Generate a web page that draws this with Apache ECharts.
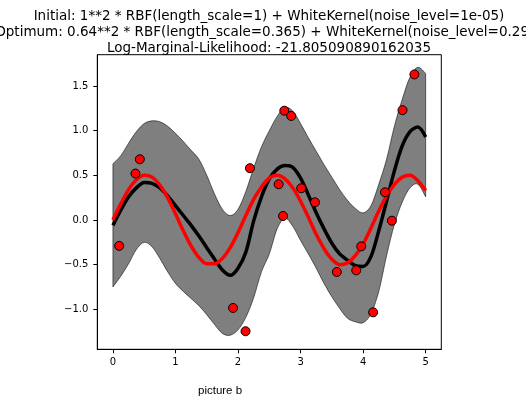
<!DOCTYPE html>
<html>
<head>
<meta charset="utf-8">
<script src="https://cdn.jsdelivr.net/npm/echarts@6/dist/echarts.min.js"></script>
<style>html,body{margin:0;padding:0;background:#fff}#c{width:526px;height:398px}</style>
</head>
<body>
<div id="c"></div>
<script>
// Grid of x positions used for the curves
const xs = [0,0.125,0.25,0.375,0.5,0.625,0.75,0.875,1,1.125,1.25,1.375,1.5,1.625,1.75,1.875,2,2.125,2.25,2.375,2.5,2.625,2.75,2.875,3,3.125,3.25,3.375,3.5,3.625,3.75,3.875,4,4.125,4.25,4.375,4.5,4.625,4.75,4.875,5];
// GP posterior mean (black)
const meanVals = [-0.06,0.11,0.26,0.36,0.42,0.41,0.36,0.27,0.16,0.05,-0.06,-0.18,-0.31,-0.44,-0.56,-0.62,-0.54,-0.36,-0.01,0.26,0.46,0.57,0.61,0.59,0.47,0.28,0.08,-0.10,-0.26,-0.38,-0.45,-0.51,-0.52,-0.41,-0.12,0.21,0.55,0.83,0.99,1.04,0.93];
// Band upper / lower edges (mean +/- std)
const upperVals = [0.63,0.72,0.86,0.99,1.08,1.11,1.10,1.05,0.97,0.88,0.78,0.68,0.50,0.29,0.12,0.05,0.12,0.32,0.58,0.82,1.00,1.16,1.26,1.22,1.08,0.92,0.77,0.62,0.48,0.34,0.22,0.13,0.08,0.16,0.40,0.68,1.05,1.35,1.60,1.71,1.64];
const lowerVals = [-0.75,-0.63,-0.49,-0.33,-0.25,-0.30,-0.43,-0.58,-0.71,-0.80,-0.88,-0.96,-1.06,-1.17,-1.27,-1.29,-1.23,-1.09,-0.87,-0.58,-0.38,-0.10,0.02,-0.07,-0.23,-0.38,-0.54,-0.71,-0.86,-0.99,-1.10,-1.14,-1.15,-1.05,-0.80,-0.40,-0.05,0.20,0.36,0.40,0.26];
// True function (red)
const trueVals = [0,0.18,0.34,0.45,0.50,0.48,0.39,0.25,0.07,-0.12,-0.29,-0.42,-0.49,-0.49,-0.43,-0.31,-0.14,0.05,0.23,0.37,0.47,0.50,0.46,0.36,0.21,0.03,-0.16,-0.32,-0.44,-0.50,-0.48,-0.40,-0.27,-0.09,0.10,0.27,0.40,0.48,0.50,0.44,0.33];
// Observations
const obsX = [0.10,0.36,0.43,1.92,2.12,2.19,2.72,2.65,2.74,2.85,3.01,3.23,3.58,3.89,3.97,4.16,4.35,4.46,4.63,4.82];
const obsY = [-0.29,0.52,0.68,-0.985,-1.246,0.58,0.045,0.40,1.224,1.165,0.355,0.198,-0.582,-0.564,-0.295,-1.034,0.31,-0.008,1.23,1.63];
// Ticks
const xTicks = [0,1,2,3,4,5];
const yTicks = [-1,-0.5,0,0.5,1,1.5];
const titleLines = [
  'Initial: 1**2 * RBF(length_scale=1) + WhiteKernel(noise_level=1e-05)',
  'Optimum: 0.64**2 * RBF(length_scale=0.365) + WhiteKernel(noise_level=0.294)',
  'Log-Marginal-Likelihood: -21.805090890162035'
];
const caption = 'picture b';

const pair = (a, b) => a.map((v, i) => [v, b[i]]);
const fmtY = v => (v < 0 ? '\u2212' : '') + Math.abs(v).toFixed(1);
const F = 'DejaVu Sans';

// Catmull-Rom spline through pixel points (pixels come from api.coord)
function splineSeg(p, start) {
  let d = start ? 'M' + p[0][0] + ' ' + p[0][1] : 'L' + p[0][0] + ' ' + p[0][1];
  for (let i = 0; i < p.length - 1; i++) {
    const p0 = p[Math.max(i - 1, 0)], p1 = p[i], p2 = p[i + 1], p3 = p[Math.min(i + 2, p.length - 1)];
    const c1 = [p1[0] + (p2[0] - p0[0]) / 6, p1[1] + (p2[1] - p0[1]) / 6];
    const c2 = [p2[0] - (p3[0] - p1[0]) / 6, p2[1] - (p3[1] - p1[1]) / 6];
    d += ' C' + c1[0] + ' ' + c1[1] + ' ' + c2[0] + ' ' + c2[1] + ' ' + p2[0] + ' ' + p2[1];
  }
  return d;
}

const chart = echarts.init(document.getElementById('c'), null, {renderer: 'canvas'});
chart.setOption({
  animation: false,
  backgroundColor: '#fff',
  title: {
    text: titleLines.join('\n'),
    left: 264, top: 4, textAlign: 'center',
    textStyle: {fontFamily: F, fontSize: 13.5, fontWeight: 'normal', color: '#000', lineHeight: 15.7}
  },
  graphic: [{
    type: 'text', left: 198, top: 385,
    style: {text: caption, fontFamily: 'Liberation Sans', fontSize: 11.5, fill: '#000'}
  }],
  grid: {left: 97.3, top: 54.7, right: 84.7, bottom: 48.7, show: true, borderColor: '#000', borderWidth: 1, backgroundColor: 'transparent'},
  xAxis: {
    type: 'value', min: -0.25, max: 5.25,
    splitLine: {show: false},
    axisLine: {show: true, onZero: false, lineStyle: {color: '#000', width: 1}},
    axisTick: {show: true, length: 4, customValues: xTicks, lineStyle: {color: '#000'}},
    axisLabel: {customValues: xTicks, margin: 8, fontFamily: F, fontSize: 10, color: '#000', formatter: v => String(Math.round(v))}
  },
  yAxis: {
    type: 'value', min: -1.448, max: 1.851,
    splitLine: {show: false},
    axisLine: {show: true, onZero: false, lineStyle: {color: '#000', width: 1}},
    axisTick: {show: true, length: 4, customValues: yTicks, lineStyle: {color: '#000'}},
    axisLabel: {customValues: yTicks, margin: 9, fontFamily: F, fontSize: 10, color: '#000', formatter: fmtY}
  },
  series: [
    {
      type: 'custom', name: 'band', data: [[0, 0]], z: 2,
      renderItem: function (params, api) {
        const up = xs.map((x, i) => api.coord([x, upperVals[i]]));
        const lo = xs.map((x, i) => api.coord([x, lowerVals[i]])).reverse();
        const d = splineSeg(up, true) + ' ' + splineSeg(lo, false) + ' Z';
        return {
          type: 'path', shape: {pathData: d},
          style: {fill: 'rgba(0,0,0,0.5)', stroke: 'rgba(0,0,0,0.55)', lineWidth: 1}
        };
      }
    },
    {
      type: 'line', name: 'mean', data: pair(xs, meanVals), smooth: 0.3, symbol: 'none',
      lineStyle: {color: '#000', width: 3.5}, z: 3
    },
    {
      type: 'line', name: 'true', data: pair(xs, trueVals), smooth: 0.3, symbol: 'none',
      lineStyle: {color: '#ff0000', width: 3.5}, z: 4
    },
    {
      type: 'scatter', name: 'obs', data: pair(obsX, obsY), symbolSize: 9,
      itemStyle: {color: '#ff0000', borderColor: '#000', borderWidth: 1, opacity: 1}, z: 5
    }
  ]
});
</script>
</body>
</html>
